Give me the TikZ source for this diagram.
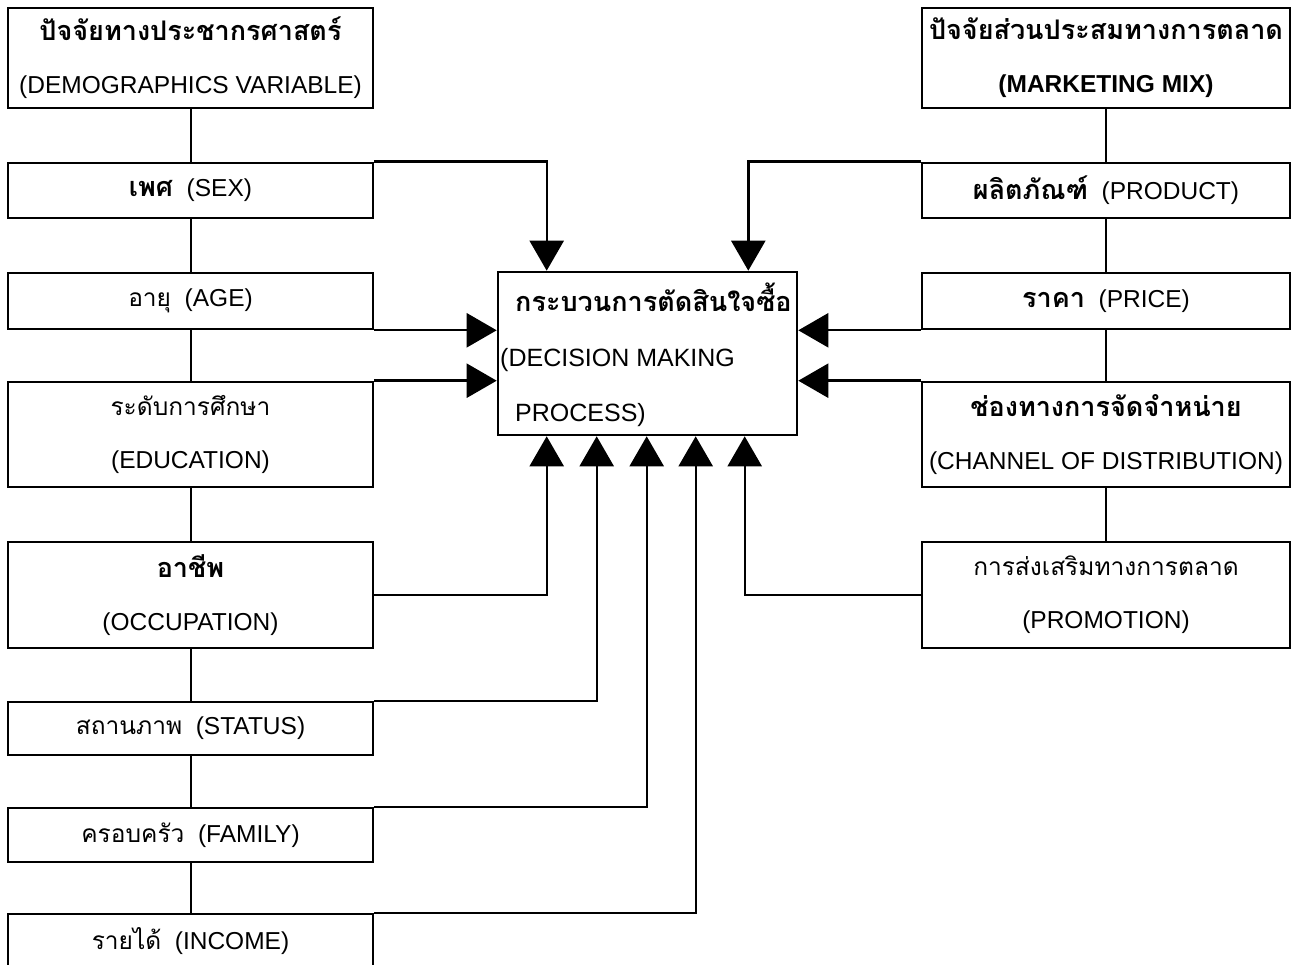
\documentclass[tikz,border=0pt]{standalone}
\usepackage{fontspec}
\setmainfont{Liberation Sans}
\newfontfamily\thaifont[Script=Thai]{Loma}
\newcommand\thr[1]{{\fontsize{24.5}{53}\selectfont\thaifont #1}}
\newcommand\thb[1]{{\fontsize{27}{53}\selectfont\thaifont\bfseries #1}}
\usetikzlibrary{arrows.meta,calc}
\begin{document}
\begin{tikzpicture}[x=1pt,y=-1pt,
  boxbase/.style={draw=black,line width=2.6pt,inner sep=0pt,align=center,
    font=\fontsize{24.5}{53}\selectfont},
  lbox/.style={boxbase,minimum width=365pt},
  rbox/.style={boxbase,minimum width=368pt},
  link/.style={line width=2pt},
  arr/.style={line width=2.4pt,-{Triangle[width=34pt,length=30pt]}}]
\useasboundingbox (0,0) rectangle (1294,965);
\begin{scope}
\clip (0,0) rectangle (1294,965);
% left column
\node[lbox,minimum height=100pt] (demo) at (190.5,58) {\thb{ปัจจัยทางประชากรศาสตร์}\\(DEMOGRAPHICS VARIABLE)};
\node[lbox,minimum height=55pt] (sex) at (190.5,190.5) {\thb{เพศ}\ \ (SEX)};
\node[lbox,minimum height=56pt] (age) at (190.5,301) {\thr{อายุ}\ \ (AGE)};
\node[lbox,minimum height=105pt] (edu) at (190.5,434.5) {\thr{ระดับการศึกษา}\\(EDUCATION)};
\node[lbox,minimum height=106pt] (occ) at (190.5,595) {\thb{อาชีพ}\\(OCCUPATION)};
\node[lbox,minimum height=53pt] (status) at (190.5,728.5) {\thr{สถานภาพ}\ \ (STATUS)};
\node[lbox,minimum height=54pt] (family) at (190.5,835) {\thr{ครอบครัว}\ \ (FAMILY)};
\node[lbox,minimum height=54pt] (income) at (190.5,941) {\thr{รายได้}\ \ (INCOME)};
% right column
\node[rbox,minimum height=100pt] (mm) at (1106,58) {\thb{ปัจจัยส่วนประสมทางการตลาด}\\\bfseries (MARKETING MIX)};
\node[rbox,minimum height=55pt] (prod) at (1106,190.5) {\thb{ผลิตภัณฑ์}\ \ (PRODUCT)};
\node[rbox,minimum height=56pt] (price) at (1106,301) {\thb{ราคา}\ \ (PRICE)};
\node[rbox,minimum height=105pt] (chan) at (1106,434.5) {\thb{ช่องทางการจัดจำหน่าย}\\(CHANNEL OF DISTRIBUTION)};
\node[rbox,minimum height=106pt] (promo) at (1106,595) {\thr{การส่งเสริมทางการตลาด}\\(PROMOTION)};
% centre
\node[draw=black,line width=2.6pt,minimum width=299pt,minimum height=163pt,inner sep=0pt] (dmp) at (647.5,353.5) {};
\node[anchor=west,inner sep=0pt,align=left,font=\fontsize{25}{55}\selectfont] (dmptext) at (500,355)
  {\hspace*{15pt}\thb{กระบวนการตัดสินใจซื้อ}\\(DECISION MAKING\\\hspace*{15pt}PROCESS)};
% vertical links
\draw[link] (demo) -- (sex);
\draw[link] (sex) -- (age);
\draw[link] (age) -- (edu);
\draw[link] (edu) -- (occ);
\draw[link] (occ) -- (status);
\draw[link] (status) -- (family);
\draw[link] (family) -- (income);
\draw[link] (mm) -- (prod);
\draw[link] (prod) -- (price);
\draw[link] (price) -- (chan);
\draw[link] (chan) -- (promo);
% arrows into centre
\draw[arr] (sex.north east) -| ($(dmp.north west)+(50,0)$);
\draw[arr] (prod.north west) -| ($(dmp.north east)+(-50,0)$);
\draw[arr] (age.south east) -- (age.south east -| dmp.west);
\draw[arr] (edu.north east) -- (edu.north east -| dmp.west);
\draw[arr] (price.south west) -- (price.south west -| dmp.east);
\draw[arr] (chan.north west) -- (chan.north west -| dmp.east);
\draw[arr] (occ.east) -| ($(dmp.south west)+(50,0)$);
\draw[arr] (status.north east) -| ($(dmp.south west)+(100,0)$);
\draw[arr] (family.north east) -| ($(dmp.south west)+(150,0)$);
\draw[arr] (income.north east) -| ($(dmp.south west)+(199,0)$);
\draw[arr] (promo.west) -| ($(dmp.south west)+(248,0)$);
\end{scope}
\end{tikzpicture}
\end{document}
